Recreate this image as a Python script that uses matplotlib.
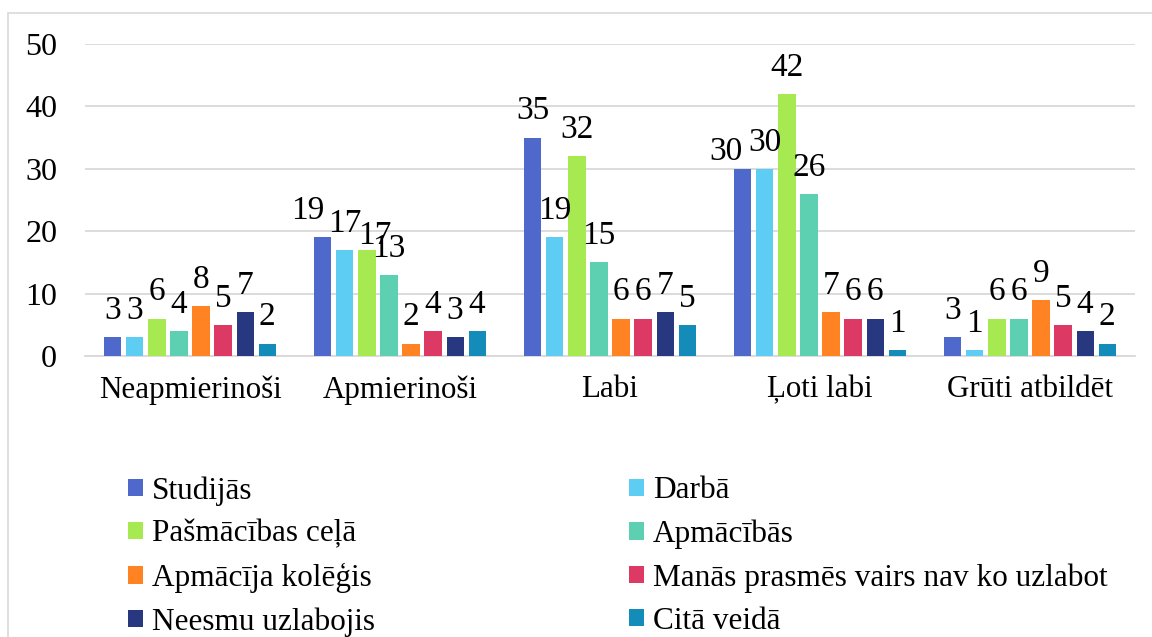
import matplotlib
matplotlib.use("Agg")
import matplotlib.pyplot as plt
import numpy as np
from matplotlib.patches import Rectangle, Patch

categories = ["Neapmierinoši", "Apmierinoši", "Labi", "Ļoti labi", "Grūti atbildēt"]
series_names = ["Studijās", "Darbā", "Pašmācības ceļā", "Apmācībās",
                "Apmācīja kolēģis", "Manās prasmēs vairs nav ko uzlabot",
                "Neesmu uzlabojis", "Citā veidā"]
studijas = [3, 19, 35, 30, 3]
darba = [3, 17, 19, 30, 1]
pasmacibas = [6, 17, 32, 42, 6]
apmacibas = [4, 13, 15, 26, 6]
kolegis = [8, 2, 6, 7, 9]
prasmes = [5, 4, 6, 6, 5]
neesmu = [7, 3, 7, 6, 4]
cita = [2, 4, 5, 1, 2]
series_values = [studijas, darba, pasmacibas, apmacibas, kolegis, prasmes, neesmu, cita]
colors = ["#4F68CC", "#5ECDF3", "#A6E950", "#5ED0B2", "#FF8223", "#DC3964", "#283880", "#148CBA"]
yticks = [0, 10, 20, 30, 40, 50]

# label nudges (points) for overlapping data labels: (series, category) -> (dx, dy)
label_nudge = {(0, 3): (-12, -7), (0, 1): (-11, 0), (2, 1): (6, -9)}

plt.rcParams['font.family'] = ['Liberation Serif', 'DejaVu Serif']

fig = plt.figure(figsize=(11.52, 6.37), dpi=100)
fig.patches.append(Rectangle((8/1152, -0.1), 1.2, 1 - 13/637 + 0.1, transform=fig.transFigure,
                             fill=False, edgecolor="#D9D9D9", linewidth=1.2))
ax = fig.add_axes([85/1152, 1 - 356/637, 1050/1152, 312/637])

x = np.arange(len(categories))
n = len(series_values)
slot = 0.105
width = 0.082
for i, (name, vals, c) in enumerate(zip(series_names, series_values, colors)):
    pos = x + (i - (n - 1) / 2) * slot
    bars = ax.bar(pos, vals, width=width, color=c, label=name, zorder=3)
    for j, (b, v) in enumerate(zip(bars, vals)):
        dx, dy = label_nudge.get((i, j), (0, 0))
        ax.annotate(str(v), (b.get_x() + b.get_width() / 2, v), xytext=(dx, 8 + dy),
                    textcoords="offset points", ha="center", va="bottom", fontsize=24, zorder=4)

ax.set_xlim(-0.5, len(categories) - 0.5)
ax.set_ylim(0, 50)
ax.set_yticks(yticks)
ax.set_yticklabels([str(t) for t in yticks], fontsize=23)
ax.set_xticks(x)
ax.set_xticklabels(categories, fontsize=22.3)
ax.tick_params(axis='y', length=0, pad=20)
ax.tick_params(axis='x', length=0, pad=14)
ax.grid(axis='y', color="#D9D9D9", linewidth=1.3, zorder=0)
for s in ["left", "right", "top"]:
    ax.spines[s].set_visible(False)
ax.spines["bottom"].set_color("#D9D9D9")
ax.spines["bottom"].set_linewidth(1.3)

handles = [Patch(facecolor=c, edgecolor='none') for c in colors]
order = [0, 2, 4, 6, 1, 3, 5, 7]
fig.legend([handles[i] for i in order], [series_names[i] for i in order], ncol=2,
           loc="upper left", bbox_to_anchor=(128/1152, 1 - 476/637), frameon=False,
           fontsize=22.5, handlelength=0.48, handleheight=0.48, handletextpad=0.3,
           columnspacing=8.1, labelspacing=0.45, borderpad=0, borderaxespad=0)

fig.savefig("out.png", dpi=100)
